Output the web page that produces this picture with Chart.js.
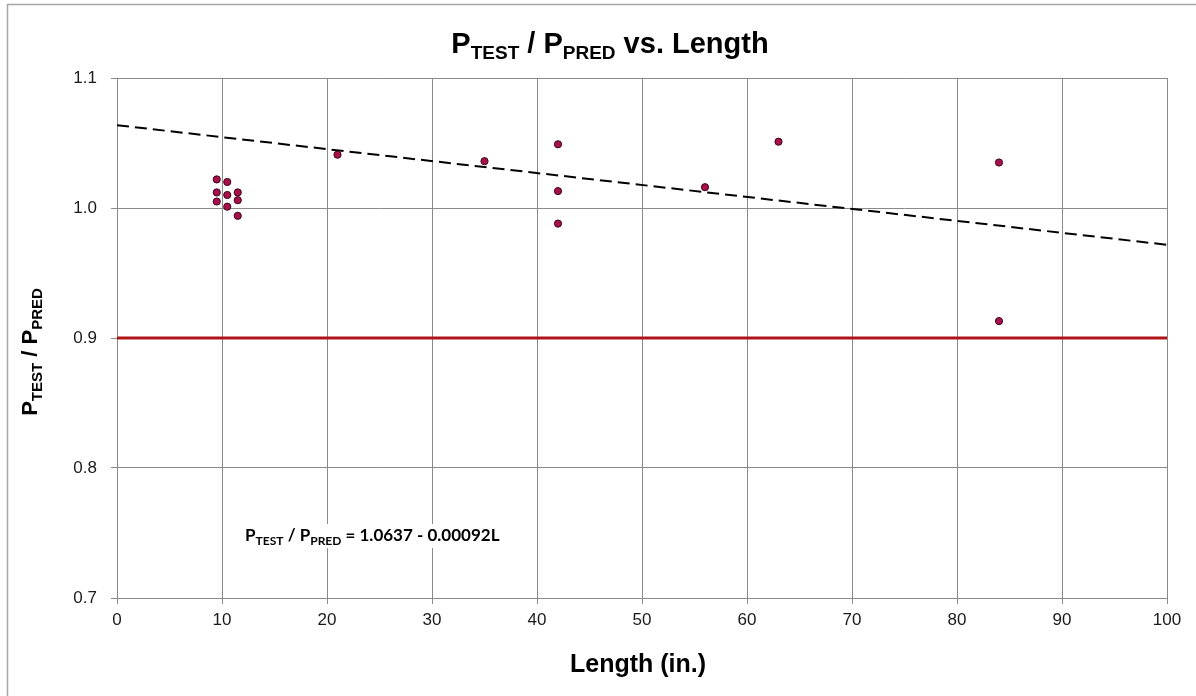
<!DOCTYPE html>
<html>
<head>
<meta charset="utf-8">
<script src="https://cdn.jsdelivr.net/npm/chart.js@4"></script>
<style>
  html, body { margin: 0; padding: 0; background: #ffffff; }
  #wrap { width: 1196px; height: 696px; position: relative; }
</style>
</head>
<body>
<div id="wrap"><canvas id="c" width="1196" height="696"></canvas></div>
<script>
// ---- data ----
const lengthX = [9.5, 10.5, 9.5, 10.5, 11.5, 9.5, 11.5, 10.5, 11.5, 21, 35, 42, 42, 42, 56, 63, 84, 84];
const ratioY  = [1.022, 1.020, 1.012, 1.010, 1.012, 1.005, 1.006, 1.001, 0.994, 1.041, 1.036, 1.049, 1.013, 0.988, 1.016, 1.051, 1.035, 0.913];
const trendX = [0, 100];
const trendY = [1.0637, 0.9717];
const limitX = [0, 100];
const limitY = [0.9, 0.9];
const xTicks = [0, 10, 20, 30, 40, 50, 60, 70, 80, 90, 100];
const yTicks = [0.7, 0.8, 0.9, 1.0, 1.1];
const titleParts = [["P", false], ["TEST", true], [" / P", false], ["PRED", true], [" vs. Length", false]];
const yTitleParts = [["P", false], ["TEST", true], [" / P", false], ["PRED", true]];
const eqParts = [["P", false], ["TEST", true], [" / P", false], ["PRED", true], [" = 1.0637 - 0.00092L", false]];
const xTitle = "Length (in.)";

const pts = lengthX.map((x, i) => ({ x: x, y: ratioY[i] }));
const trend = trendX.map((x, i) => ({ x: x, y: trendY[i] }));
const limit = limitX.map((x, i) => ({ x: x, y: limitY[i] }));

const ARIAL = '"Liberation Sans", Arial, sans-serif';
const EQF = 'Lato, "Open Sans", sans-serif';

function measureParts(ctx, parts, mainFont, subFont) {
  let w = 0;
  parts.forEach(p => { ctx.font = p[1] ? subFont : mainFont; w += ctx.measureText(p[0]).width; });
  return w;
}

function drawParts(ctx, parts, cx, baseY, mainFont, subFont, subShift, align) {
  const w = measureParts(ctx, parts, mainFont, subFont);
  let x = align === 'left' ? cx : cx - w / 2;
  ctx.textAlign = 'left';
  ctx.textBaseline = 'alphabetic';
  parts.forEach(p => {
    ctx.font = p[1] ? subFont : mainFont;
    ctx.fillText(p[0], x, baseY + (p[1] ? subShift : 0));
    x += ctx.measureText(p[0]).width;
  });
  return w;
}

const decor = {
  id: 'decor',
  beforeDraw(chart) {
    const ctx = chart.ctx;
    ctx.save();
    ctx.fillStyle = '#ffffff';
    ctx.fillRect(0, 0, chart.width, chart.height);
    ctx.strokeStyle = '#a6a6a6';
    ctx.lineWidth = 1.5;
    ctx.beginPath();
    ctx.moveTo(7.5, chart.height);
    ctx.lineTo(7.5, 4.5);
    ctx.lineTo(chart.width, 4.5);
    ctx.stroke();
    ctx.restore();
  },
  afterDraw(chart) {
    const ctx = chart.ctx;
    const xs = chart.scales.x, ys = chart.scales.y;
    ctx.save();
    ctx.fillStyle = '#000000';
    // title
    drawParts(ctx, titleParts, 610, 53, 'bold 29px ' + ARIAL, 'bold 19px ' + ARIAL, 6, 'center');
    // x title
    ctx.font = 'bold 25px ' + ARIAL;
    ctx.textAlign = 'center';
    ctx.fillText(xTitle, (xs.left + xs.right) / 2 - 4, 672);
    // y title
    ctx.save();
    ctx.translate(37, 352);
    ctx.rotate(-Math.PI / 2);
    drawParts(ctx, yTitleParts, 0, 0, 'bold 22px ' + ARIAL, 'bold 15px ' + ARIAL, 5, 'center');
    ctx.restore();
    // equation with white box behind
    const mf = 'bold 17px ' + EQF, sf = 'bold 12px ' + EQF;
    const ex = xs.getPixelForValue(12.2);
    const ey = ys.getPixelForValue(0.7) - 57;
    const ew = measureParts(ctx, eqParts, mf, sf);
    ctx.fillStyle = '#ffffff';
    ctx.fillRect(ex - 5, ey - 17, ew + 10, 24);
    ctx.fillStyle = '#000000';
    drawParts(ctx, eqParts, ex, ey, mf, sf, 4, 'left');
    ctx.restore();
  }
};

new Chart(document.getElementById('c'), {
  type: 'scatter',
  data: {
    datasets: [
      {
        label: 'Test data',
        data: pts,
        order: 0,
        pointRadius: 3.6,
        pointHoverRadius: 3.6,
        backgroundColor: '#a8104c',
        borderColor: '#3a0518',
        borderWidth: 1
      },
      {
        label: 'Trend',
        data: trend,
        type: 'line',
        order: 1,
        showLine: true,
        pointRadius: 0,
        borderColor: '#000000',
        borderWidth: 2,
        borderDash: [12, 6],
        fill: false
      },
      {
        label: 'Limit',
        data: limit,
        type: 'line',
        order: 2,
        showLine: true,
        pointRadius: 0,
        borderColor: '#b01418',
        borderWidth: 3,
        fill: false
      }
    ]
  },
  options: {
    responsive: false,
    animation: false,
    events: [],
    layout: { padding: { left: 0, right: 29, top: 78, bottom: 0 } },
    plugins: { legend: { display: false }, tooltip: { enabled: false }, title: { display: false } },
    scales: {
      x: {
        type: 'linear',
        min: 0, max: 100,
        afterFit(s) { s.height = 98; },
        afterBuildTicks(s) { s.ticks = xTicks.map(v => ({ value: v })); },
        grid: { color: '#8a8a8a', lineWidth: 1, tickLength: 6, drawTicks: true },
        border: { color: '#8a8a8a', width: 1 },
        ticks: { font: { size: 17, family: ARIAL }, color: '#1a1a1a', padding: 6, maxRotation: 0 }
      },
      y: {
        type: 'linear',
        min: 0.7, max: 1.1,
        afterFit(s) { s.width = 117; },
        afterBuildTicks(s) { s.ticks = yTicks.map(v => ({ value: v })); },
        grid: { color: '#8a8a8a', lineWidth: 1, tickLength: 6, drawTicks: true },
        border: { color: '#8a8a8a', width: 1 },
        ticks: { font: { size: 17, family: ARIAL }, color: '#1a1a1a', padding: 14, callback: v => Number(v).toFixed(1) }
      }
    }
  },
  plugins: [decor]
});
</script>
</body>
</html>
